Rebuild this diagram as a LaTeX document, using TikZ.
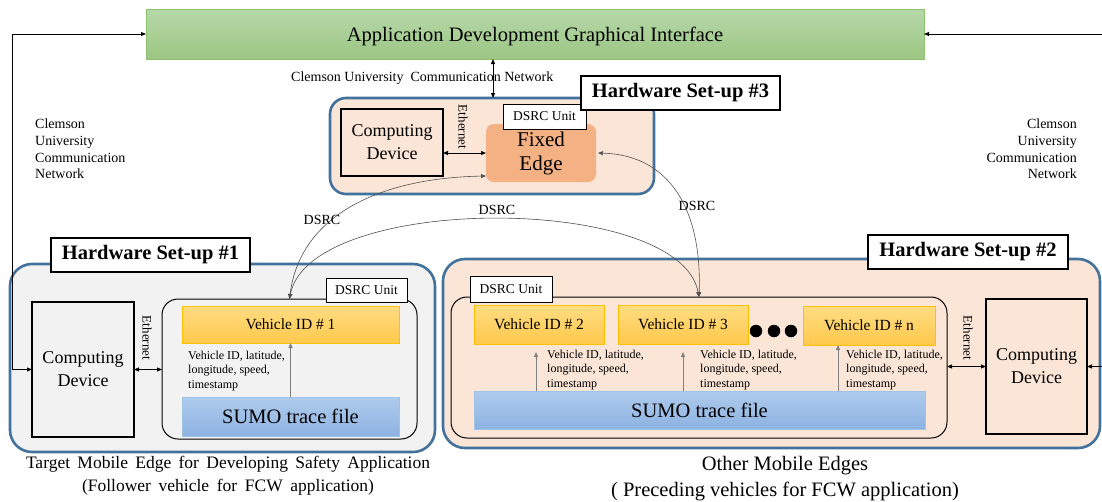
\documentclass[tikz,border=0pt]{standalone}
\usepackage{fontspec}
\setmainfont{Liberation Serif}
\usetikzlibrary{arrows.meta,calc}
\definecolor{peach}{HTML}{FBE5D6}
\definecolor{lgray}{HTML}{F2F2F2}
\definecolor{hwblue}{HTML}{41719C}
\definecolor{fixedc}{HTML}{F4B183}
\definecolor{guitop}{HTML}{B6D8A9}
\definecolor{guibot}{HTML}{9CC683}
\definecolor{guiedge}{HTML}{8DC070}
\definecolor{vidtop}{HTML}{FFDC82}
\definecolor{vidbot}{HTML}{FFC94C}
\definecolor{videdge}{HTML}{FFC000}
\definecolor{sumotop}{HTML}{AECBEC}
\definecolor{sumobot}{HTML}{8DB2E2}
\definecolor{sumoedge}{HTML}{9DC3E6}
\definecolor{arrgray}{HTML}{7F7F7F}
\definecolor{curvegray}{HTML}{505050}
\newcommand\fsz[2]{\fontsize{#1}{#2}\selectfont}
\newcommand\mybox[7]{\node[#6,minimum width={(#4)-(#2)},minimum height={(#5)-(#3)}] (#1) at ({((#2)+(#4))/2},{((#3)+(#5))/2}) {#7};}
\tikzset{
  base/.style={inner sep=0pt, outer sep=0pt},
  hwbox/.style={base, draw=hwblue, line width=2.6pt, rounded corners=22pt},
  inbox/.style={base, draw=black, line width=1pt, rounded corners=16pt},
  cdbox/.style={base, draw=black, line width=1.1pt, align=center, font=\fsz{18}{23}},
  lbl/.style={base, draw=black, fill=white, line width=1.2pt, font=\bfseries\fsz{20.5}{24}},
  dsrcu/.style={base, draw=black, fill=white, line width=1pt, font=\fsz{13.5}{16}},
  vid/.style={base, draw=videdge, line width=0.6pt, top color=vidtop, bottom color=vidbot, font=\fsz{15.5}{18}},
  sumo/.style={base, draw=sumoedge, line width=0.6pt, top color=sumotop, bottom color=sumobot, font=\fsz{20.5}{24}},
  tip/.tip={Triangle[length=5pt,width=4pt]},
  conn/.style={line width=0.9pt, tip-tip},
  varr/.style={line width=0.8pt, draw=arrgray, -tip},
  curve/.style={line width=0.6pt, draw=curvegray, tip-tip},
  small/.style={font=\fsz{12}{14.5}, align=left, inner sep=0pt},
  eth/.style={font=\fsz{13}{15}, rotate=-90, inner sep=0pt},
  dsrclbl/.style={font=\fsz{14}{16}, inner sep=0pt},
  net/.style={font=\fsz{14}{16.7}, inner sep=0pt},
  dot/.style={circle, fill=black, inner sep=0pt, minimum size=12.5pt}
}
\begin{document}
\begin{tikzpicture}[x=1pt,y=-1pt]
\useasboundingbox (0,0) rectangle (1102,501);
% GUI
\mybox{gui}{146}{9}{924}{59}{base, draw=guiedge, line width=0.6pt, top color=guitop, bottom color=guibot, font=\fsz{20.5}{24}, text height=19pt, text depth=4pt}{Application Development Graphical Interface}
\node[net, anchor=west] (cun) at (291,78) {Clemson University~ Communication Network};
\node[net, anchor=west, align=left] (cl) at (35,149) {Clemson\\University\\Communication\\Network};
\node[net, anchor=east, align=right] (cr) at (1077,149) {Clemson\\University\\Communication\\Network};

% Hardware set-up 3
\mybox{hw3}{330}{98}{654}{194}{hwbox, rounded corners=16pt, fill=peach}{}
\mybox{cd3}{341}{109}{443}{176}{cdbox, fill=peach}{Computing\\Device}
\mybox{fe}{486}{124}{596}{182}{base, fill=fixedc, rounded corners=8pt, align=center, font=\fsz{21}{24}}{Fixed\\Edge}
\mybox{du3}{503}{104}{586}{129}{dsrcu}{DSRC Unit}
\mybox{l3}{581}{76}{780}{110}{lbl}{Hardware Set-up \#3}
\node[eth] (e3) at (463,127) {Ethernet};

% Hardware set-up 1
\mybox{hw1}{10}{264}{435}{452}{hwbox, fill=lgray}{}
\mybox{l1}{51}{238}{250}{272}{lbl}{Hardware Set-up \#1}
\mybox{cd1}{32}{302}{134}{437}{cdbox, fill=lgray}{Computing\\Device}
\mybox{in1}{162}{299}{417}{439}{inbox, fill=lgray}{}
\mybox{du1}{326}{278}{407}{302}{dsrcu}{DSRC Unit}
\mybox{v1}{182}{306}{399}{343}{vid}{Vehicle ID \# 1}
\mybox{s1}{182}{397}{399}{436}{sumo}{SUMO trace file}
\node[small, anchor=west] (t1) at (188,371) {Vehicle ID, latitude,\\longitude, speed,\\timestamp};
\node[eth] (e1) at (147,338) {Ethernet};

% Hardware set-up 2
\mybox{hw2}{443}{259}{1100}{448}{hwbox, fill=peach}{}
\mybox{l2}{868}{235}{1068}{269}{lbl}{Hardware Set-up \#2}
\mybox{in2}{451}{297}{947}{438}{inbox, fill=peach}{}
\mybox{du2}{470}{276}{552}{302}{dsrcu}{DSRC Unit}
\mybox{v2}{474}{305}{604}{344}{vid}{Vehicle ID \# 2}
\mybox{v3}{618}{305}{748}{344}{vid}{Vehicle ID \# 3}
\mybox{vn}{803}{306}{935}{345}{vid}{Vehicle ID \# n}
\node[dot] (d1) at (756,331) {};
\node[dot] (d2) at (774,331) {};
\node[dot] (d3) at (791,331) {};
\mybox{s2}{474}{391}{925}{429}{sumo}{SUMO trace file}
\node[small, anchor=west] (t2) at (547,370) {Vehicle ID, latitude,\\longitude, speed,\\timestamp};
\node[small, anchor=west] (t3) at (700,370) {Vehicle ID, latitude,\\longitude, speed,\\timestamp};
\node[small, anchor=west] (t4) at (846,370) {Vehicle ID, latitude,\\longitude, speed,\\timestamp};
\mybox{cd2}{986}{299}{1087}{434}{cdbox, fill=peach}{Computing\\Device}
\node[eth] (e2) at (968,338) {Ethernet};

% captions
\node[font=\fsz{17.5}{23}, align=center, inner sep=0pt] (cap1) at (228,476) {\makebox[404pt][s]{Target Mobile Edge for Developing Safety Application}\\\makebox[292pt][s]{(Follower vehicle for FCW application)}};
\node[font=\fsz{20.5}{26}, align=center, inner sep=0pt] (cap2) at (785,479) {Other Mobile Edges\\( Preceding vehicles for FCW application)};

% connectors
\coordinate (cx) at (493,0);
\draw[conn] (gui.south -| cx) -- (hw3.north -| cx);
\draw[conn] (cd1.west) -- ++(-20,0) |- (gui.west);
\draw[conn] (cd2.east) -- ++(25,0) |- (gui.east);
\draw[conn] (cd3.east |- fe.west) -- (fe.west);
\draw[conn] (cd1.east) -- (cd1.east -| in1.west);
\draw[conn] (in2.east |- cd2.west) -- (cd2.west);

\coordinate (a1) at (536,0);
\coordinate (a2) at (683,0);
\coordinate (a3) at (838,0);
\draw[varr] (s1.north) -- (v1.south);
\draw[varr] (s2.north -| a1) -- ([yshift=-8pt]v2.south -| a1);
\draw[varr] (s2.north -| a2) -- ([yshift=-8pt]v3.south -| a2);
\draw[varr] (s2.north -| a3) -- (vn.south -| a3);

\draw[curve] (in1.north) .. controls (300,215) and (380,178) .. ([yshift=-23pt]fe.west);
\draw[curve] (in1.north) .. controls (310,193) and (680,193) .. (in2.north);
\draw[curve] ([xshift=2pt]fe.east) .. controls (670,155) and (702,210) .. (in2.north);
\node[dsrclbl] (ds1) at (322,220) {DSRC};
\node[dsrclbl] (ds2) at (497,210) {DSRC};
\node[dsrclbl] (ds3) at (697,206) {DSRC};
\end{tikzpicture}
\end{document}
